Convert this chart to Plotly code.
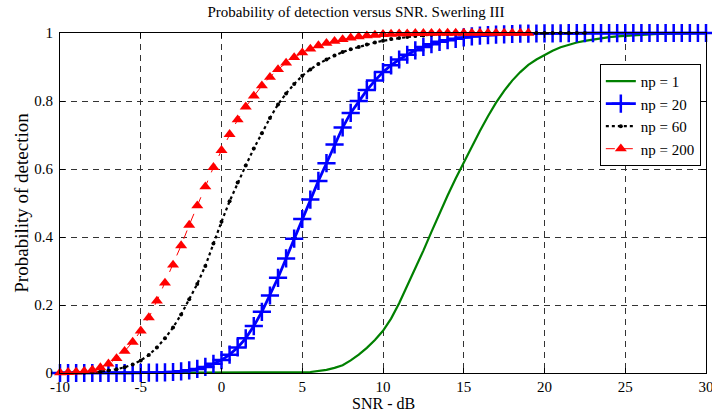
import plotly.graph_objects as go

snr = [-10 + 0.5 * i for i in range(81)]

# np = 1 (values at -10, -9.5, ..., 30)
pd_np1 = [0.0] * 27 + [
    0.0005, 0.001, 0.0015, 0.002, 0.003, 0.005, 0.009, 0.015, 0.023, 0.037,
    0.054, 0.074, 0.097, 0.124, 0.16, 0.205, 0.255, 0.307, 0.36, 0.415,
    0.47, 0.522, 0.572, 0.62, 0.667, 0.712, 0.755, 0.795, 0.83, 0.86,
    0.885, 0.906, 0.922, 0.936, 0.948, 0.958, 0.966, 0.972, 0.977, 0.981,
    0.985, 0.988, 0.990, 0.992, 0.9935, 0.995, 0.996, 0.997, 0.9975, 0.998,
    0.9985, 0.999, 0.999, 0.9993]

pd_np20 = [0.0, 0.0, 0.0, 0.0, 0.0, 0.0, 0.0, 0.0, 0.0, 0.0,
           0.0005, 0.001, 0.001, 0.002, 0.003, 0.005, 0.008, 0.012, 0.018, 0.027,
           0.038, 0.054, 0.075, 0.102, 0.138, 0.18, 0.228, 0.28, 0.337, 0.395,
           0.453, 0.51, 0.565, 0.617, 0.672, 0.722, 0.765, 0.80, 0.832, 0.86,
           0.885, 0.905, 0.922, 0.936, 0.949, 0.959, 0.967, 0.974, 0.979, 0.983,
           0.987, 0.99, 0.992, 0.994, 0.995, 0.996, 0.997, 0.998, 0.998, 0.9985,
           0.999, 0.999, 0.9993, 0.9995, 0.9996, 0.9997, 0.9998, 0.9998, 0.9999, 0.9999,
           1.0, 1.0, 1.0, 1.0, 1.0, 1.0, 1.0, 1.0, 1.0, 1.0,
           1.0]

pd_np60 = [0.0, 0.0, 0.0005, 0.001, 0.002, 0.004, 0.007, 0.011, 0.017, 0.025,
           0.037, 0.053, 0.075, 0.102, 0.134, 0.172, 0.217, 0.262, 0.315, 0.381,
           0.445, 0.505, 0.56, 0.61, 0.66, 0.705, 0.75, 0.79, 0.822, 0.85,
           0.874, 0.893, 0.909, 0.922, 0.934, 0.944, 0.952, 0.959, 0.966, 0.972,
           0.977, 0.982, 0.985, 0.988, 0.991, 0.993, 0.995, 0.996, 0.997, 0.998,
           0.998, 0.999, 0.999, 0.999, 0.9995, 0.9995, 0.9997, 0.9998, 0.9998, 0.9999,
           0.9999, 1.0, 1.0, 1.0, 1.0, 1.0]

pd_np200 = [0.001, 0.002, 0.003, 0.005, 0.009, 0.016, 0.027, 0.043, 0.064, 0.091,
            0.124, 0.163, 0.212, 0.265, 0.318, 0.375, 0.435, 0.492, 0.548, 0.605,
            0.655, 0.702, 0.745, 0.783, 0.815, 0.845, 0.87, 0.893, 0.912, 0.928,
            0.942, 0.953, 0.963, 0.97, 0.976, 0.981, 0.986, 0.989, 0.992, 0.994,
            0.996, 0.997, 0.998, 0.998, 0.999, 0.999, 0.9995, 0.9995, 0.9997, 0.9998,
            0.9998, 0.9999, 0.9999, 1.0, 1.0, 1.0, 1.0, 1.0, 1.0]

x_ticks = [-10, -5, 0, 5, 10, 15, 20, 25, 30]
x_tick_labels = ["-10", "-5", "0", "5", "10", "15", "20", "25", "30"]
y_ticks = [0, 0.2, 0.4, 0.6, 0.8, 1]
y_tick_labels = ["0", "0.2", "0.4", "0.6", "0.8", "1"]

FONT = "Liberation Serif, Times New Roman, serif"

fig = go.Figure()
fig.add_trace(go.Scatter(x=snr[:len(pd_np1)], y=pd_np1, mode="lines", name="np = 1",
                         line=dict(color="#008000", width=2.2), cliponaxis=False))
fig.add_trace(go.Scatter(x=snr[:len(pd_np20)], y=pd_np20, mode="lines+markers", name="np = 20",
                         line=dict(color="#0000ff", width=2.8), cliponaxis=False,
                         marker=dict(symbol="cross-thin", size=13,
                                     line=dict(color="#0000ff", width=2.5))))
fig.add_trace(go.Scatter(x=snr[:len(pd_np60)], y=pd_np60, mode="lines+markers", name="np = 60",
                         line=dict(color="#000000", width=2.2, dash="dot"), cliponaxis=False,
                         marker=dict(symbol="circle", size=4, color="#000000")))
fig.add_trace(go.Scatter(x=snr[:len(pd_np200)], y=pd_np200, mode="lines+markers", name="np = 200",
                         line=dict(color="#ff0000", width=1, dash="dash"), cliponaxis=False,
                         marker=dict(symbol="triangle-up", size=10.5, color="#ff0000")))

axis_common = dict(showline=True, linecolor="black", linewidth=1, mirror="ticks",
                   ticks="inside", ticklen=5, tickcolor="black",
                   showgrid=True, gridcolor="#333333", gridwidth=1, griddash="6px,5px",
                   zeroline=False, ticklabeloverflow="allow", automargin=False,
                   tickfont=dict(family=FONT, size=15, color="black"))

fig.update_xaxes(range=[-10, 30], tickvals=x_ticks, ticktext=x_tick_labels,
                 ticklabelstandoff=0, **axis_common)
fig.update_yaxes(range=[0, 1], tickvals=y_ticks, ticktext=y_tick_labels,
                 ticklabelstandoff=3,
                 title=dict(text="Probability of detection", font=dict(family=FONT, size=19, color="black"),
                            standoff=0),
                 **axis_common)

fig.add_annotation(text="SNR - dB", xref="paper", yref="paper", x=0.5, y=-0.118,
                   xanchor="center", yanchor="bottom", showarrow=False, borderpad=0,
                   font=dict(family=FONT, size=16, color="black"))

fig.update_layout(
    width=712, height=414,
    margin=dict(l=60, r=6, t=33, b=41),
    paper_bgcolor="white", plot_bgcolor="white",
    title=dict(text="Probability of detection versus SNR. Swerling III",
               font=dict(family=FONT, size=15, color="black"),
               x=0.5, xanchor="center", y=0.985, yanchor="top"),
    font=dict(family=FONT, color="black"),
    showlegend=True,
    legend=dict(x=0.992, xanchor="right", y=0.909, yanchor="top",
                bgcolor="white", bordercolor="black", borderwidth=1,
                font=dict(family=FONT, size=15, color="black"),
                tracegroupgap=0, itemwidth=30),
)

fig.write_html("out.html")
